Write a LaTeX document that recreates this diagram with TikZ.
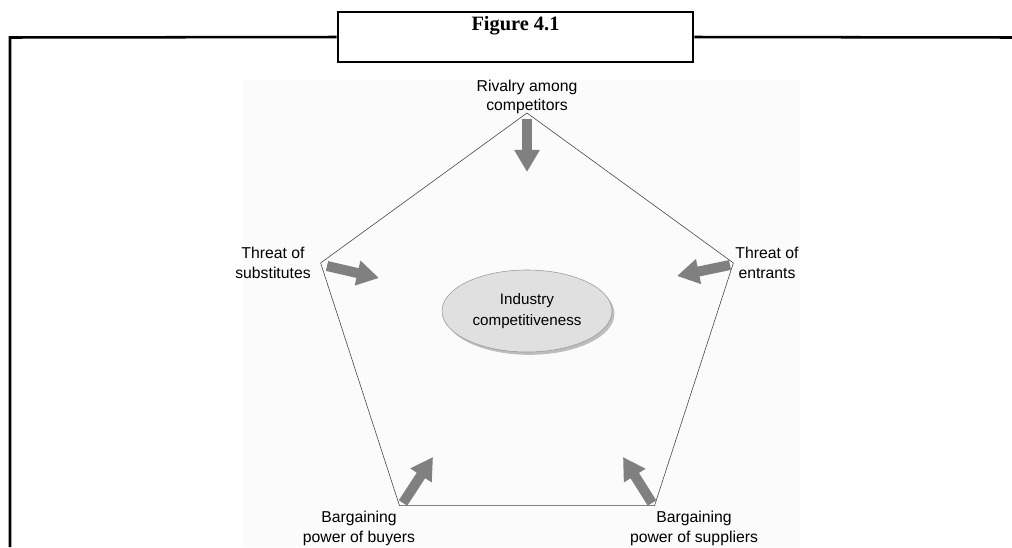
\documentclass[tikz,border=0pt]{standalone}
\usepackage{fontspec}
\setmainfont{Liberation Sans}
\newfontfamily\titlefont{Liberation Serif}
\usetikzlibrary{arrows.meta, calc, shadows, shapes.geometric, positioning}

\begin{document}
\begin{tikzpicture}[x=0.025cm, y=-0.025cm, >={Triangle[length=0.55cm, width=0.6cm]},
    frameline/.style={line width=1.8pt},
    force/.style={->, line width=0.25cm, draw=black!50},
    lbl/.style={align=center, inner sep=0pt, font=\fontsize{11.2}{14.2}\selectfont}]
    \useasboundingbox (0,0) rectangle (1012,547);
    \fill[black!1.5] (243,80) rectangle (800,547);
    \node[draw, frameline, fill=white, minimum width=8.875cm, minimum height=1.25cm] (title) at (515.5,37) {};
    \node[font=\titlefont\bfseries\fontsize{14.5}{16}\selectfont] (titletext) at (515.5,26) {Figure 4.1};
    \draw[frameline] (title.west) -- (10,37.5) -- (10,547);
    \draw[frameline] (title.east) -- (1012,37.5);
    \coordinate (c) at (527,330);
    \foreach \i in {0,...,4}
        \coordinate (v\i) at ($(c)+({-90+72*\i}:217)$);
    \draw[black!75, thin] (v0)--(v1)--(v2)--(v3)--(v4)--cycle;
    \node[ellipse, draw=black!40, fill=black!12, minimum width=4.25cm, minimum height=2.05cm,
        drop shadow={shadow xshift=0.06cm, shadow yshift=-0.07cm, fill=black!50},
        lbl, font=\fontsize{10.8}{15}\selectfont] (industry) at (527,311) {Industry\\competitiveness};
    \node[lbl, font=\fontsize{11.2}{13}\selectfont] (rivalry) at (527,97) {Rivalry among\\competitors};
    \node[lbl] (substitutes) at (273,263) {Threat of\\substitutes};
    \node[lbl] (entrants) at (767,263) {Threat of\\entrants};
    \node[lbl] (buyers) at (359,528) {Bargaining\\power of buyers};
    \node[lbl] (suppliers) at (694,528) {Bargaining\\power of suppliers};
    \coordinate (r1) at (527,119); \coordinate (r2) at (527,172);
    \coordinate (s1) at (327,266); \coordinate (s2) at (379,278);
    \coordinate (e1) at (730,265); \coordinate (e2) at (677,276);
    \coordinate (b1) at (403,503); \coordinate (b2) at (433,457);
    \coordinate (p1) at (652,503); \coordinate (p2) at (623,457);
    \draw[force] (r1)--(r2);
    \draw[force] (s1)--(s2);
    \draw[force] (e1)--(e2);
    \draw[force] (b1)--(b2);
    \draw[force] (p1)--(p2);
\end{tikzpicture}
\end{document}
